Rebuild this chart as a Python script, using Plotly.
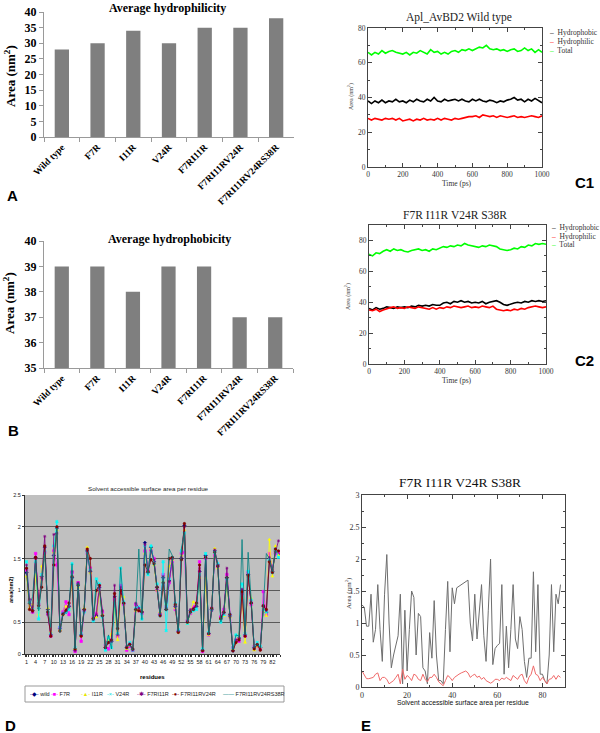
import plotly.graph_objects as go

W, H = 600, 733

# ---------------- data ----------------
mutants = ["Wild type", "F7R", "I11R", "V24R", "F7RI11R", "F7RI11RV24R", "F7RI11RV24RS38R"]
hydrophilicity = [28, 30, 34, 30, 35, 35, 38]
hydrophobicity = [39, 39, 38, 39, 39, 37, 37]

time_ps = list(range(0, 1001, 20))

c1_hydrophobic = [38, 36.5, 38, 37, 38.5, 37, 38, 37.5, 39, 37.5,
                  38, 37, 38.5, 37.5, 39, 38, 37.5, 39, 38, 40,
                  38, 37.5, 39, 38, 38.5, 39, 38, 39, 38, 37.5,
                  39, 38, 39, 38, 37.5, 38.5, 38, 37, 38, 37.5,
                  38.5, 39, 40, 38.5, 39, 37.5, 39, 38, 39.5, 38,
                  37]
c1_hydrophilic = [28, 27, 28, 27.5, 27, 28, 27.5, 28, 27, 28,
                  26.5, 27, 27.5, 26.5, 27.5, 27, 28, 27, 27.5, 27,
                  28, 27, 28, 27.5, 27, 28, 27.5, 28, 28.5, 29,
                  29, 29.5, 28.5, 30, 29.5, 29, 29.5, 28.5, 29.5, 29,
                  28.5, 29, 29.5, 28.5, 29, 28.5, 29, 29.5, 29, 28.5,
                  29.5]
c1_total = [66, 64.5, 66, 65, 67, 65.5, 66.5, 67, 66, 65.5,
            65, 66, 64.5, 66, 65.5, 67, 66, 65, 67.5, 66,
            66.5, 65, 66, 65, 66.5, 67, 66, 67.5, 67, 68,
            67, 68, 69, 68.5, 70, 68, 67.5, 68, 67, 67.5,
            66.5, 67.5, 68, 66.5, 67, 68.5, 67, 68, 66, 67.5,
            66]

c2_hydrophobic = [36, 35, 36.5, 35.5, 36, 37, 36.5, 36, 37, 36.5,
                  37, 36.5, 37.5, 37, 38, 37.5, 38, 37.5, 38.5, 38,
                  38, 39.5, 40, 39, 40.5, 40, 41, 40, 40.5, 39.5,
                  40, 39.5, 40.5, 39, 40, 40.5, 41, 40, 38.5, 38,
                  39, 39.5, 40, 39.5, 40.5, 40, 41, 40.5, 41, 40.5,
                  41]
c2_hydrophilic = [35, 34.5, 35.5, 34, 35, 36, 36.5, 37, 36, 36.5,
                  36, 37, 36.5, 36, 37, 36.5, 36, 35.5, 36.5, 35.5,
                  36.5, 36, 37, 36.5, 37.5, 37, 36.5, 37, 37.5, 36.5,
                  37, 36.5, 37.5, 37, 36.5, 37.5, 35.5, 35, 34.5, 35,
                  34.5, 35.5, 35, 36, 35.5, 36.5, 37, 37.5, 37, 36.5,
                  37]
c2_total = [71, 70, 72, 71.5, 73, 74, 73, 74.5, 73.5, 74,
            73, 72.5, 73.5, 74, 74.5, 73.5, 74, 73, 74.5, 74,
            75, 76, 75.5, 76.5, 76, 77, 76.5, 78, 77, 76.5,
            76, 75.5, 76.5, 76, 77, 76.5, 76, 74.5, 74, 73.5,
            74, 75, 74.5, 76, 75.5, 77, 76.5, 78, 77.5, 78,
            77.5]

residue_ticks = list(range(1, 83, 3))
sasa_wild = [1.28, 0.80, 0.68, 1.52, 0.72, 1.22, 1.68, 0.70, 0.30, 1.55,
             1.98, 0.40, 0.63, 0.66, 0.75, 1.20, 0.06, 1.10, 0.30, 0.70,
             1.62, 1.30, 0.55, 0.60, 1.05, 0.60, 0.10, 0.20, 0.20, 0.90,
             0.30, 1.00, 0.80, 0.10, 0.15, 0.07, 0.70, 0.70, 0.66, 1.75,
             1.28, 1.68, 1.45, 1.05, 0.62, 1.20, 0.70, 1.15, 1.50, 0.75,
             0.35, 1.50, 2.02, 0.50, 0.68, 0.70, 0.75, 1.30, 0.05, 1.55,
             0.32, 0.70, 1.62, 1.40, 0.55, 0.65, 1.20, 0.60, 0.05, 0.20,
             0.25, 1.00, 0.30, 1.25, 0.80, 0.10, 0.15, 0.10, 0.75, 0.65,
             1.50, 1.30, 1.62, 1.58]
sasa_f7r = [1.32, 0.84, 0.66, 1.58, 0.78, 1.18, 1.60, 0.64, 0.28, 1.62,
            1.40, 0.42, 0.66, 0.82, 0.62, 1.28, 0.04, 1.12, 0.20, 0.68,
            1.58, 1.35, 0.58, 0.64, 1.08, 0.66, 0.14, 0.08, 0.22, 0.86,
            0.28, 1.08, 0.78, 0.06, 0.12, 0.06, 0.78, 0.68, 0.64, 1.62,
            1.32, 1.64, 1.50, 1.00, 0.62, 1.25, 0.75, 1.12, 1.45, 0.70,
            0.36, 1.58, 1.60, 0.52, 0.64, 0.74, 0.80, 1.45, 0.04, 1.50,
            0.30, 0.72, 1.55, 1.38, 0.58, 0.70, 1.25, 0.62, 0.10, 0.22,
            0.20, 0.95, 0.28, 1.28, 0.78, 0.12, 0.12, 0.08, 0.98, 0.62,
            1.58, 1.35, 1.58, 1.60]
sasa_i11r = [1.22, 0.72, 0.78, 1.25, 0.62, 1.38, 1.55, 0.72, 0.35, 1.60,
             1.95, 0.38, 0.62, 0.75, 0.72, 1.15, 0.08, 1.05, 0.28, 0.72,
             1.68, 1.28, 0.56, 0.58, 0.98, 0.62, 0.12, 0.22, 0.32, 0.72,
             0.22, 0.92, 0.90, 0.08, 0.14, 0.08, 0.68, 0.70, 0.70, 1.58,
             1.30, 1.66, 1.40, 1.00, 0.66, 1.15, 0.78, 1.38, 1.48, 0.72,
             0.34, 1.55, 1.95, 0.48, 0.66, 0.82, 0.78, 1.20, 0.06, 1.20,
             0.30, 0.72, 1.66, 1.35, 0.56, 0.60, 1.12, 0.58, 0.08, 0.18,
             0.30, 0.88, 0.18, 1.22, 0.88, 0.06, 0.12, 0.10, 0.72, 0.60,
             1.80, 1.22, 1.70, 1.55]
sasa_v24r = [1.45, 0.82, 0.70, 1.45, 0.55, 1.25, 1.62, 0.66, 0.32, 1.70,
             2.08, 0.42, 0.64, 0.66, 0.70, 1.42, 0.10, 1.08, 0.32, 0.66,
             1.60, 1.32, 0.52, 1.18, 1.10, 0.58, 0.06, 0.26, 0.10, 0.80,
             0.32, 1.35, 0.82, 0.10, 0.18, 0.06, 0.72, 0.74, 0.55, 1.70,
             1.25, 1.70, 1.42, 1.10, 0.60, 1.45, 0.37, 1.18, 1.52, 0.80,
             0.38, 1.62, 1.90, 0.48, 0.66, 0.68, 0.70, 1.25, 0.08, 1.58,
             0.34, 0.70, 1.60, 1.42, 0.50, 0.62, 1.18, 0.62, 0.10, 0.30,
             0.28, 1.10, 0.32, 1.30, 0.85, 0.10, 0.18, 0.12, 0.70, 0.66,
             1.48, 1.28, 1.65, 1.52]
sasa_f7ri11r = [1.40, 0.86, 0.66, 1.50, 0.80, 1.20, 1.85, 0.62, 0.30, 1.88,
                1.90, 0.38, 0.64, 0.70, 0.74, 1.30, 0.05, 1.12, 0.30, 0.68,
                1.62, 1.30, 0.54, 0.62, 1.05, 0.68, 0.12, 0.18, 0.20, 1.08,
                0.30, 1.05, 0.80, 0.12, 0.16, 0.06, 0.80, 0.72, 0.66, 1.72,
                1.30, 1.62, 1.48, 1.02, 0.64, 1.22, 0.72, 1.14, 1.50, 0.74,
                0.36, 1.52, 2.00, 0.52, 0.70, 0.72, 0.76, 1.35, 0.06, 1.52,
                0.32, 0.68, 1.64, 1.40, 0.58, 0.64, 1.35, 0.58, 0.06, 0.22,
                0.24, 1.02, 0.30, 1.22, 0.82, 0.10, 0.14, 0.08, 0.76, 0.68,
                1.52, 1.32, 1.60, 1.78]
sasa_f7ri11rv24r = [1.35, 0.70, 0.68, 1.52, 0.76, 1.05, 1.70, 0.66, 0.28, 1.40,
                    2.00, 0.36, 0.62, 0.68, 0.80, 1.22, 0.08, 1.08, 0.28, 0.70,
                    1.65, 1.50, 0.56, 1.00, 1.08, 0.60, 0.10, 0.18, 0.22, 0.95,
                    0.40, 1.00, 0.80, 0.10, 0.15, 0.08, 0.70, 0.68, 0.66, 1.40,
                    1.30, 1.48, 1.42, 1.05, 0.60, 1.12, 0.70, 1.50, 1.52, 0.78,
                    0.34, 1.48, 2.05, 0.50, 0.66, 0.70, 0.80, 1.40, 0.05, 1.52,
                    0.32, 0.72, 1.60, 1.38, 0.56, 0.66, 1.20, 0.62, 0.05, 0.18,
                    0.22, 0.98, 0.28, 1.24, 0.80, 0.08, 0.15, 0.06, 0.76, 0.70,
                    1.45, 1.28, 1.65, 1.62]
sasa_f7ri11rv24rs38r = [1.30, 0.78, 0.90, 1.48, 0.68, 1.20, 1.60, 0.72, 0.42, 1.50,
                        1.98, 0.34, 0.62, 0.66, 0.72, 1.42, 0.08, 1.12, 0.30, 0.72,
                        1.60, 1.28, 0.52, 1.16, 1.02, 0.58, 0.08, 0.30, 0.08, 0.88,
                        0.30, 1.36, 0.78, 0.12, 0.14, 0.06, 0.68, 1.65, 0.54, 1.68,
                        1.25, 1.68, 1.45, 1.05, 0.62, 1.22, 0.68, 1.65, 1.55, 0.78,
                        0.35, 1.65, 1.92, 0.50, 0.66, 0.70, 0.74, 1.28, 0.06, 1.55,
                        0.30, 0.70, 1.62, 1.40, 0.50, 0.66, 1.22, 0.60, 0.06, 0.30,
                        0.28, 1.80, 0.30, 1.60, 0.80, 0.10, 0.15, 0.10, 0.72, 1.58,
                        1.50, 1.30, 1.62, 1.58]

e_total_x = [0, 1, 2, 3, 4, 5, 6, 7, 8, 9, 10, 11, 12, 13, 14, 15, 16, 17, 18, 19,
             20, 21, 22, 23, 24, 25, 26, 27, 28, 29, 30, 31, 32, 33, 34, 35, 36, 37, 38, 39,
             40, 41, 42, 47, 48, 49, 50, 51, 52, 53, 54, 55, 56, 57, 58, 59, 60, 61, 62, 63,
             64, 65, 66, 67, 68, 69, 70, 71, 72, 73, 74, 75, 76, 77, 78, 79, 80, 81, 82, 83,
             84, 85, 86, 87, 88]
e_total_y = [1.28, 1.25, 0.95, 0.95, 1.45, 0.70, 0.90, 1.60, 0.90, 0.40, 1.45, 2.07, 1.00, 0.30, 0.50, 0.65, 0.80, 1.45, 0.05, 1.20,
             0.25, 0.90, 1.50, 1.40, 0.50, 1.15, 1.10, 0.30, 0.25, 0.05, 0.85, 0.45, 1.35, 0.50, 0.10, 0.10, 0.05, 0.90, 1.65, 0.55,
             1.55, 1.30, 1.55, 1.67, 1.00, 0.72, 1.45, 0.75, 1.20, 1.60, 0.80, 0.40, 1.20, 2.00, 0.35, 0.60, 0.65, 0.68, 1.60, 0.20,
             0.95, 0.30, 0.90, 1.60, 0.75, 0.60, 1.10, 0.90, 0.40, 0.15, 0.45, 0.45, 1.80, 0.55, 1.60, 0.20, 0.20, 0.10, 0.05, 0.50,
             1.60, 0.55, 1.45, 1.30, 1.60]
e_red_x = list(range(0, 89))
e_red_y = [0.25, 0.20, 0.13, 0.13, 0.14, 0.15, 0.20, 0.22, 0.10, 0.15,
           0.15, 0.12, 0.05, 0.08, 0.10, 0.15, 0.20, 0.05, 0.28, 0.12,
           0.18, 0.15, 0.10, 0.20, 0.18, 0.12, 0.10, 0.20, 0.12, 0.08,
           0.15, 0.15, 0.20, 0.15, 0.08, 0.05, 0.02, 0.10, 0.18, 0.15,
           0.10, 0.15, 0.18, 0.20, 0.22, 0.24, 0.25, 0.22, 0.15, 0.18,
           0.20, 0.15, 0.17, 0.12, 0.15, 0.10, 0.08, 0.06, 0.08, 0.12,
           0.12, 0.10, 0.14, 0.12, 0.15, 0.12, 0.10, 0.18, 0.15, 0.12,
           0.18, 0.20, 0.10, 0.05, 0.15, 0.20, 0.33, 0.20, 0.18, 0.10,
           0.15, 0.10, 0.05, 0.12, 0.13, 0.18, 0.12, 0.18, 0.15]

# ---------------- helpers ----------------
def dx(a, b):
    return [a / W, b / W]

def dy(top, bottom):
    return [1 - bottom / H, 1 - top / H]

def P(x, y):
    return dict(x=x / W, y=1 - y / H, xref="paper", yref="paper")

SERIF = "Liberation Serif"
SANS = "Liberation Sans"

fig = go.Figure()

# A and B bars
fig.add_trace(go.Bar(x=mutants, y=hydrophilicity, xaxis="x", yaxis="y",
                     marker=dict(color="#7f7f7f", line=dict(width=0)), width=0.4))
fig.add_trace(go.Bar(x=mutants, y=hydrophobicity, xaxis="x2", yaxis="y2",
                     marker=dict(color="#7f7f7f", line=dict(width=0)), width=0.4))

# C1
for vals, col in [(c1_hydrophobic, "#000000"), (c1_hydrophilic, "#ff0000"), (c1_total, "#00ff00")]:
    fig.add_trace(go.Scatter(x=time_ps, y=vals, mode="lines", xaxis="x3", yaxis="y3",
                             line=dict(color=col, width=1.6)))
# C2
for vals, col in [(c2_hydrophobic, "#000000"), (c2_hydrophilic, "#ff0000"), (c2_total, "#00ff00")]:
    fig.add_trace(go.Scatter(x=time_ps, y=vals, mode="lines", xaxis="x4", yaxis="y4",
                             line=dict(color=col, width=1.6)))

# D
d_series = [
    ("wild", sasa_wild, "#000080", "diamond"),
    ("F7R", sasa_f7r, "#ff00ff", "square"),
    ("I11R", sasa_i11r, "#ffff00", "triangle-up"),
    ("V24R", sasa_v24r, "#00ffff", "x"),
    ("F7RI11R", sasa_f7ri11r, "#800080", "asterisk"),
    ("F7RI11RV24R", sasa_f7ri11rv24r, "#800000", "circle"),
    ("F7RI11RV24RS38R", sasa_f7ri11rv24rs38r, "#008080", None),
]
for name, vals, col, sym in d_series:
    res = list(range(1, len(vals) + 1))
    if sym:
        fig.add_trace(go.Scatter(x=res, y=vals, mode="lines+markers", xaxis="x5", yaxis="y5",
                                 line=dict(color=col, width=0.8),
                                 marker=dict(symbol=sym, size=2.5, color=col, line=dict(color=col, width=0.6))))
    else:
        fig.add_trace(go.Scatter(x=res, y=vals, mode="lines", xaxis="x5", yaxis="y5",
                                 line=dict(color=col, width=0.8)))

# E
fig.add_trace(go.Scatter(x=e_total_x, y=e_total_y, mode="lines", xaxis="x6", yaxis="y6",
                         line=dict(color="#6e6e6e", width=1)))
fig.add_trace(go.Scatter(x=e_red_x, y=e_red_y, mode="lines", xaxis="x6", yaxis="y6",
                         line=dict(color="#f06a6a", width=1)))

# ---------------- axes ----------------
bar_y_font = dict(family=SERIF, size=12, color="black", weight="bold")
bar_x_font = dict(family=SERIF, size=9.5, color="black", weight="bold")

def bar_x(domain, anchor):
    return dict(domain=domain, anchor=anchor, type="category", showline=True, linecolor="#9a9a9a",
                ticks="outside", tickson="boundaries", ticklen=4, tickcolor="#9a9a9a",
                tickangle=-45, tickfont=bar_x_font, showgrid=False, zeroline=False,
                automargin=False, fixedrange=True)

def bar_y(domain, anchor, rng, dt):
    return dict(domain=domain, anchor=anchor, range=rng, dtick=dt, showline=True,
                linecolor="#9a9a9a", ticks="outside", ticklen=4, tickcolor="#9a9a9a",
                tickfont=bar_y_font, showgrid=False, zeroline=False, automargin=False)

def grace_axis(domain, anchor, rng, dt, mdt, fsize=7.5):
    return dict(domain=domain, anchor=anchor, range=rng, dtick=dt, showline=True,
                linecolor="#444", linewidth=1, mirror="allticks", ticks="inside",
                ticklen=4, tickcolor="#444", tickfont=dict(family=SERIF, size=fsize, color="#333"),
                minor=dict(ticks="inside", dtick=mdt, ticklen=2, tickcolor="#444"),
                showgrid=False, zeroline=False, automargin=False)

layout = dict(
    width=W, height=H, margin=dict(l=0, r=0, t=0, b=0),
    paper_bgcolor="white", plot_bgcolor="rgba(0,0,0,0)", showlegend=False,
    bargap=0.6,
    xaxis=bar_x(dx(44, 294), "y"),
    yaxis=bar_y(dy(12, 137), "x", [0, 40], 5),
    xaxis2=bar_x(dx(44, 293), "y2"),
    yaxis2=bar_y(dy(241, 368), "x2", [35, 40], 1),
    xaxis3=grace_axis(dx(368, 542), "y3", [0, 1000], 200, 100),
    yaxis3=grace_axis(dy(28, 167), "x3", [0, 80], 20, 10),
    xaxis4=grace_axis(dx(369, 546), "y4", [0, 1000], 200, 100),
    yaxis4=grace_axis(dy(225, 364), "x4", [0, 90], 20, 10),
    xaxis5=dict(domain=dx(25, 280), anchor="y5", range=[0.5, 84.5], tickvals=residue_ticks,
                showline=True, linecolor="#333", ticks="outside", ticklen=2, tickcolor="#333",
                minor=dict(ticks="outside", tick0=0.5, dtick=1, ticklen=2, tickcolor="#333"),
                tickfont=dict(family=SANS, size=5.5, color="#222"), showgrid=False,
                zeroline=False, automargin=False),
    yaxis5=dict(domain=dy(495, 654), anchor="x5", range=[0, 2.5], dtick=0.5,
                showline=True, linecolor="#333", ticks="outside", ticklen=2, tickcolor="#333",
                tickfont=dict(family=SANS, size=5.5, color="#222"), showgrid=True,
                gridcolor="#5a5a5a", gridwidth=1, zeroline=False, automargin=False),
    xaxis6=grace_axis(dx(362, 565), "y6", [0, 90], 20, 10, 8),
    yaxis6=grace_axis(dy(495, 687), "x6", [0, 3], 0.5, 0.25, 8),
)
fig.update_layout(**layout)

# D grey plot background
fig.add_shape(type="rect", xref="x5 domain", yref="y5 domain", x0=0, x1=1, y0=0, y1=1,
              fillcolor="#c0c0c0", line=dict(width=0), layer="below")
# D legend box
fig.add_shape(type="rect", xref="paper", yref="paper", x0=25 / W, x1=284 / W,
              y0=1 - 702 / H, y1=1 - 686 / H, line=dict(color="#999", width=1),
              fillcolor="white", layer="above")

ann = []

def text(x, y, s, size, family=SERIF, color="black", weight="normal", angle=0, xanchor="center"):
    d = P(x, y)
    d.update(text=s, showarrow=False, xanchor=xanchor, yanchor="middle", textangle=angle,
             font=dict(family=family, size=size, color=color, weight=weight))
    ann.append(d)

# A/B
text(167, 8, "Average hydrophilicity", 12, weight="bold")
text(10, 76, "Area (nm<sup>2</sup>)", 13, weight="bold", angle=-90)
text(169, 239, "Average hydrophobicity", 12, weight="bold")
text(9, 303, "Area (nm<sup>2</sup>)", 13, weight="bold", angle=-90)

# C1
text(459, 18, "Apl_AvBD2 Wild type", 11.5, color="#222")
text(457, 183, "Time (ps)", 7.5, color="#333")
text(350, 97, "Area (nm<sup>2</sup>)", 6, color="#333", angle=-90)
for yy, nm, col in [(33, "Hydrophobic", "#000000"), (42, "Hydrophilic", "#ff0000"), (50, "Total", "#00ff00")]:
    text(547, yy, f"<span style='color:{col}'>–</span>  {nm}", 7.5, color="#333", xanchor="left")

# C2
text(455, 215, "F7R I11R V24R S38R", 11.5, color="#222")
text(457, 380, "Time (ps)", 7.5, color="#333")
text(347, 297, "Area (nm<sup>2</sup>)", 6, color="#333", angle=-90)
for yy, nm, col in [(228, "Hydrophobic", "#000000"), (236, "Hydrophilic", "#ff0000"), (244, "Total", "#00ff00")]:
    text(549, yy, f"<span style='color:{col}'>–</span>  {nm}", 7.5, color="#333", xanchor="left")

# D
text(148, 488, "Solvent accessible surface area per residue", 6.2, family=SANS, color="#222")
text(152, 677, "residues", 6, family=SANS, weight="bold")
text(11, 590, "area(nm2)", 5.5, family=SANS, weight="bold", angle=-90)
legend_items = [(28, "◆", "wild", "#000080"), (49, "■", "F7R", "#ff00ff"),
                (79, "▲", "I11R", "#e6e600"), (105, "×", "V24R", "#00e0e0"),
                (135, "✱", "F7RI11R", "#800080"), (170, "●", "F7RI11RV24R", "#800000"),
                (221, "—", "F7RI11RV24RS38R", "#008080")]
for xx, g, nm, col in legend_items:
    sym = f"-{g}-" if g != "—" else "——"
    text(xx, 694, f"<span style='color:{col}'>{sym}</span> {nm}", 5.5, family=SANS, color="#222",
         xanchor="left")

# E
text(460, 482, "F7R I11R V24R S38R", 13.5, color="#111")
text(463, 703, "Solvent accessible surface area per residue", 6.8, family=SANS, color="#111")
text(348, 593, "Area (nm<sup>2</sup>)", 7, color="#333", angle=-90)

# panel letters
for xx, yy, s in [(12, 195, "A"), (13, 430, "B"), (584, 182, "C1"), (584, 360, "C2"),
                  (10, 725, "D"), (366, 725, "E")]:
    text(xx, yy, s, 15, family=SANS, weight="bold")

fig.update_layout(annotations=ann)
fig.write_html("out.html",
               config={"displayModeBar": False},
               post_script="document.body.style.margin='0';document.body.style.padding='0';"
                           "document.body.style.overflow='hidden';"
                           "document.documentElement.style.overflow='hidden';")
